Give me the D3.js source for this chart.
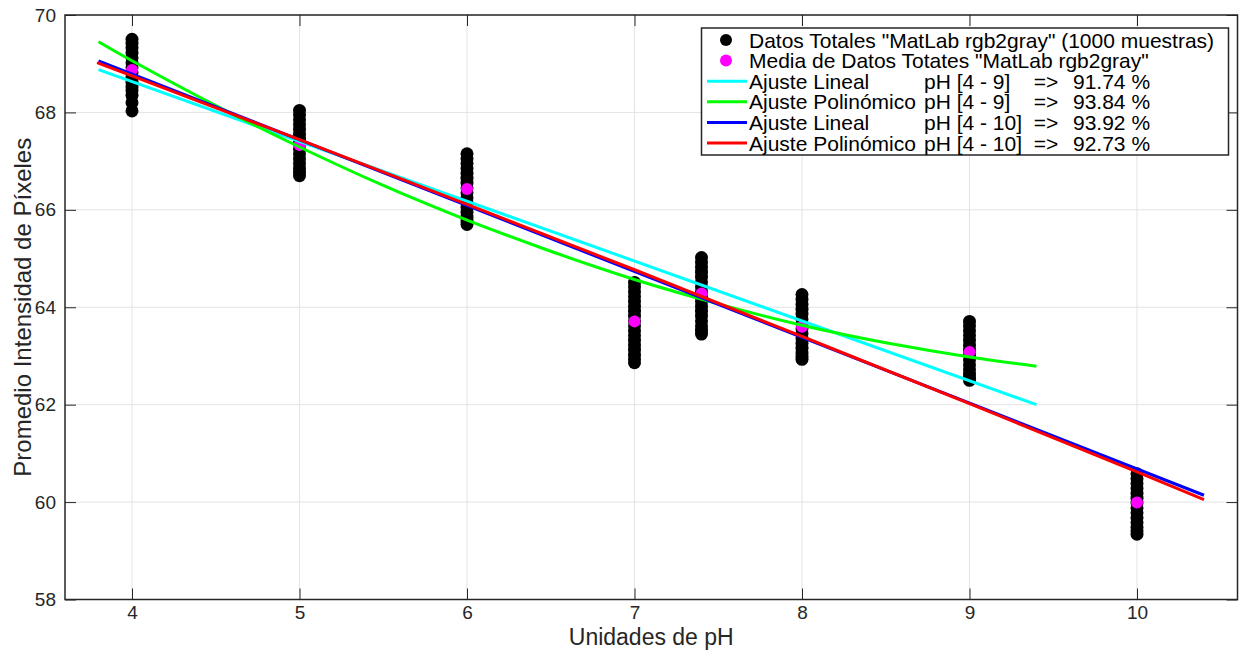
<!DOCTYPE html>
<html>
<head>
<meta charset="utf-8">
<script src="https://cdn.jsdelivr.net/npm/d3@7"></script>
<style>
  html, body { margin: 0; padding: 0; background: #fff; }
  svg { display: block; font-family: "Liberation Sans", Arial, Helvetica, sans-serif; }
  .legend text { white-space: pre; }
</style>
</head>
<body>
<svg id="chart" width="1239" height="650"></svg>
<script>
// pH levels measured and the per-sample gray intensities recorded at each level
const phLevels = [4, 5, 6, 7, 7.4, 8, 9, 10];
const samplesPh4   = [69.50, 69.42, 69.32, 69.22, 69.12, 69.02, 68.92, 68.82, 68.72, 68.62, 68.52, 68.45, 68.35, 68.20, 68.03];
const samplesPh5   = [68.04, 67.95, 67.85, 67.75, 67.65, 67.55, 67.45, 67.35, 67.25, 67.15, 67.05, 66.95, 66.85, 66.77, 66.70];
const samplesPh6   = [67.15, 67.05, 66.95, 66.85, 66.75, 66.65, 66.55, 66.45, 66.35, 66.25, 66.15, 66.05, 65.95, 65.85, 65.77, 65.70];
const samplesPh7   = [64.51, 64.42, 64.32, 64.22, 64.12, 64.02, 63.92, 63.82, 63.72, 63.62, 63.52, 63.42, 63.32, 63.22, 63.12, 63.02, 62.94, 62.86];
const samplesPh7_4 = [65.02, 64.92, 64.82, 64.72, 64.62, 64.52, 64.42, 64.32, 64.22, 64.12, 64.02, 63.92, 63.82, 63.72, 63.62, 63.53, 63.45];
const samplesPh8   = [64.26, 64.16, 64.06, 63.96, 63.86, 63.76, 63.66, 63.56, 63.46, 63.36, 63.26, 63.16, 63.06, 62.99, 62.93];
const samplesPh9   = [63.71, 63.62, 63.52, 63.42, 63.32, 63.22, 63.12, 63.02, 62.92, 62.82, 62.72, 62.63, 62.56, 62.50];
const samplesPh10  = [60.58, 60.48, 60.38, 60.28, 60.18, 60.08, 59.98, 59.88, 59.78, 59.68, 59.58, 59.48, 59.41, 59.34];
const sampleSets = [samplesPh4, samplesPh5, samplesPh6, samplesPh7, samplesPh7_4, samplesPh8, samplesPh9, samplesPh10];

// mean intensity at each pH level
const meanValues = [68.87, 67.33, 66.43, 63.71, 64.28, 63.60, 63.08, 59.99];

// fitted curves (pH, intensity)
const linFit49X  = [3.8, 9.4];
const linFit49Y  = [68.88, 62.00];
const polyFit49X = [3.8, 4, 4.5, 5, 5.5, 6, 6.5, 7, 7.5, 8, 8.5, 9, 9.4];
const polyFit49Y = [69.45, 69.06, 68.14, 67.29, 66.50, 65.79, 65.15, 64.57, 64.07, 63.63, 63.27, 62.98, 62.79];
const linFit410X  = [3.8, 10.4];
const linFit410Y  = [69.06, 60.14];
const polyFit410X = [3.8, 4, 5, 6, 7, 8, 9, 10, 10.4];
const polyFit410Y = [69.01, 68.75, 67.44, 66.11, 64.77, 63.40, 62.02, 60.62, 60.05];

const xTicks = [4, 5, 6, 7, 8, 9, 10];
const yTicks = [58, 60, 62, 64, 66, 68, 70];

const legendLabels = [
  'Datos Totales "MatLab rgb2gray" (1000 muestras)',
  'Media de Datos Totates "MatLab rgb2gray"',
  ['Ajuste Lineal', 'pH [4 - 9]    =>', '91.74 %'],
  ['Ajuste Polinómico', 'pH [4 - 9]    =>', '93.84 %'],
  ['Ajuste Lineal', 'pH [4 - 10]  =>', '93.92 %'],
  ['Ajuste Polinómico', 'pH [4 - 10]  =>', '92.73 %']
];

// ---- layout ----
const svg = d3.select("#chart");
const plot = { left: 65, right: 1237.5, top: 15, bottom: 599.5 };
const axisColor = "#262626";

const x = d3.scaleLinear().domain([3.6, 10.6]).range([plot.left, plot.right]);
const y = d3.scaleLinear().domain([58, 70]).range([plot.bottom, plot.top]);

// grid
const grid = svg.append("g").attr("stroke", "#e3e3e3").attr("stroke-width", 1);
grid.selectAll(".gx").data(xTicks).join("line")
  .attr("x1", d => x(d)).attr("x2", d => x(d))
  .attr("y1", plot.top).attr("y2", plot.bottom);
grid.selectAll(".gy").data(yTicks).join("line")
  .attr("y1", d => y(d)).attr("y2", d => y(d))
  .attr("x1", plot.left).attr("x2", plot.right);

// sample clouds
const samplesG = svg.append("g").attr("fill", "#000");
sampleSets.forEach((vals, i) => {
  samplesG.selectAll(null).data(vals).join("circle")
    .attr("cx", x(phLevels[i])).attr("cy", d => y(d)).attr("r", 6.5);
});

// means
svg.append("g").attr("fill", "#ff00ff")
  .selectAll("circle").data(meanValues).join("circle")
  .attr("cx", (d, i) => x(phLevels[i])).attr("cy", d => y(d)).attr("r", 6);

// fit curves
const fits = [
  { xs: linFit49X, ys: linFit49Y, color: "#00ffff", curve: d3.curveLinear },
  { xs: polyFit49X, ys: polyFit49Y, color: "#00ff00", curve: d3.curveNatural },
  { xs: linFit410X, ys: linFit410Y, color: "#0000ff", curve: d3.curveLinear },
  { xs: polyFit410X, ys: polyFit410Y, color: "#ff0000", curve: d3.curveNatural }
];
fits.forEach(f => {
  const pts = f.xs.map((v, i) => [v, f.ys[i]]);
  const line = d3.line().x(d => x(d[0])).y(d => y(d[1])).curve(f.curve);
  svg.append("path").datum(pts).attr("d", line)
    .attr("fill", "none").attr("stroke", f.color).attr("stroke-width", 3);
});

// axes with inward ticks on all four sides
const tickLen = 11;
const fmt = d3.format("d");
const xAxisB = d3.axisBottom(x).tickValues(xTicks).tickFormat(fmt).tickSizeInner(-tickLen).tickSizeOuter(0).tickPadding(6);
const xAxisT = d3.axisTop(x).tickValues(xTicks).tickSizeInner(-tickLen).tickSizeOuter(0).tickFormat("");
const yAxisL = d3.axisLeft(y).tickValues(yTicks).tickFormat(fmt).tickSizeInner(-tickLen).tickSizeOuter(0).tickPadding(9);
const yAxisR = d3.axisRight(y).tickValues(yTicks).tickSizeInner(-tickLen).tickSizeOuter(0).tickFormat("");

function styleAxis(g) {
  g.select(".domain").remove();
  g.selectAll(".tick line").attr("stroke", axisColor).attr("stroke-width", 1);
  g.selectAll(".tick text").attr("fill", axisColor).attr("font-size", 19)
    .attr("font-family", "Liberation Sans, Arial, sans-serif");
}
svg.append("g").attr("transform", `translate(0,${plot.bottom})`).call(xAxisB).call(styleAxis);
svg.append("g").attr("transform", `translate(0,${plot.top})`).call(xAxisT).call(styleAxis);
svg.append("g").attr("transform", `translate(${plot.left},0)`).call(yAxisL).call(styleAxis);
svg.append("g").attr("transform", `translate(${plot.right},0)`).call(yAxisR).call(styleAxis);

// frame
svg.append("rect")
  .attr("x", plot.left).attr("y", plot.top)
  .attr("width", plot.right - plot.left).attr("height", plot.bottom - plot.top)
  .attr("fill", "none").attr("stroke", axisColor).attr("stroke-width", 1.5);

// axis titles
svg.append("text")
  .attr("x", (plot.left + plot.right) / 2).attr("y", 645)
  .attr("text-anchor", "middle").attr("font-size", 23).attr("fill", axisColor)
  .text("Unidades de pH");
svg.append("text")
  .attr("transform", `translate(31,${(plot.top + plot.bottom) / 2}) rotate(-90)`)
  .attr("text-anchor", "middle").attr("font-size", 24).attr("fill", axisColor)
  .text("Promedio Intensidad de Píxeles");

// legend
const lg = svg.append("g").attr("class", "legend");
const box = { x: 701.5, y: 28, w: 527, h: 127 };
lg.append("rect").attr("x", box.x).attr("y", box.y).attr("width", box.w).attr("height", box.h)
  .attr("fill", "#fff").attr("stroke", axisColor).attr("stroke-width", 1.5);
const rowY = i => 40 + i * 20.6;
const legendSymbols = [
  { type: "dot", color: "#000" },
  { type: "dot", color: "#ff00ff" },
  { type: "line", color: "#00ffff" },
  { type: "line", color: "#00ff00" },
  { type: "line", color: "#0000ff" },
  { type: "line", color: "#ff0000" }
];
legendSymbols.forEach((s, i) => {
  const cy = rowY(i);
  if (s.type === "dot") {
    lg.append("circle").attr("cx", 726).attr("cy", cy).attr("r", 6).attr("fill", s.color);
  } else {
    lg.append("line").attr("x1", 707).attr("x2", 747).attr("y1", cy).attr("y2", cy)
      .attr("stroke", s.color).attr("stroke-width", 3);
  }
  const t = lg.append("text").attr("y", cy).attr("dy", "0.36em")
    .attr("font-size", 21).attr("fill", "#000");
  const lab = legendLabels[i];
  if (typeof lab === "string") {
    t.append("tspan").attr("x", 749).text(lab);
  } else {
    t.append("tspan").attr("x", 749).text(lab[0]);
    t.append("tspan").attr("x", 924).text(lab[1]);
    t.append("tspan").attr("x", 1073).text(lab[2]);
  }
});
</script>
</body>
</html>
